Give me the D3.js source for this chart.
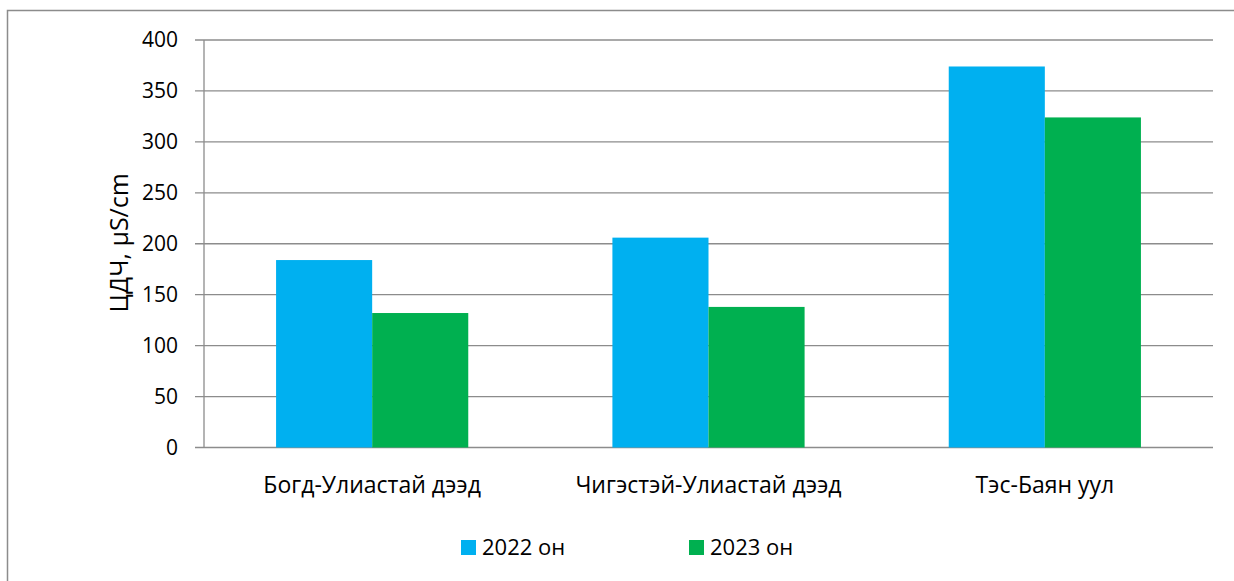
<!DOCTYPE html>
<html>
<head>
<meta charset="utf-8">
<script src="https://cdn.jsdelivr.net/npm/d3@7"></script>
<style>
  body { margin: 0; background: #fff; }
  text { font-family: "Open Sans", "Noto Sans", sans-serif; fill: #000; }
</style>
</head>
<body>
<div id="chart"></div>
<script>
// Data
const categories = ["Богд-Улиастай дээд", "Чигэстэй-Улиастай дээд", "Тэс-Баян уул"];
const seriesNames = ["2022 он", "2023 он"];
const values2022 = [184, 206, 374];
const values2023 = [132, 138, 324];
const yTicks = [0, 50, 100, 150, 200, 250, 300, 350, 400];
const colors = ["#00B0F0", "#00B050"];

const W = 1234, H = 581;
const margin = { top: 40, right: 21, bottom: 133.5, left: 204 };
const width = W - margin.left - margin.right;
const height = H - margin.top - margin.bottom;

const svg = d3.select("#chart")
  .append("svg")
    .attr("width", W)
    .attr("height", H);

// Outer chart frame (cut off at right and bottom)
svg.append("rect")
  .attr("x", 7.5)
  .attr("y", 10.5)
  .attr("width", W + 20)
  .attr("height", H + 20)
  .attr("fill", "none")
  .attr("stroke", "#8c8c8c")
  .attr("stroke-width", 1.5);

const g = svg.append("g")
  .attr("transform", `translate(${margin.left},${margin.top})`);

// Scales
const x0 = d3.scaleBand().domain(categories).range([0, width]).padding(0);
const x1 = d3.scaleBand().domain(seriesNames).range([0, x0.bandwidth()]).paddingInner(0).paddingOuter(0.75);
const y = d3.scaleLinear().domain([0, 400]).range([height, 0]);

// Gridlines
g.selectAll(".grid")
  .data(yTicks)
  .enter().append("line")
    .attr("x1", -9)
    .attr("x2", width)
    .attr("y1", d => y(d))
    .attr("y2", d => y(d))
    .attr("stroke", "#8c8c8c")
    .attr("stroke-width", 1.3);

// Bars
const rows = categories.map((c, i) => ({ cat: c, vals: [values2022[i], values2023[i]] }));
g.selectAll(".group")
  .data(rows)
  .enter().append("g")
    .attr("transform", d => `translate(${x0(d.cat)},0)`)
  .selectAll("rect")
  .data(d => d.vals.map((v, j) => ({ name: seriesNames[j], value: v, j })))
  .enter().append("rect")
    .attr("x", d => x1(d.name))
    .attr("y", d => y(d.value))
    .attr("width", x1.bandwidth())
    .attr("height", d => height - y(d.value))
    .attr("fill", d => colors[d.j]);

// Y axis line
g.append("line")
  .attr("x1", 0).attr("x2", 0)
  .attr("y1", 0).attr("y2", height)
  .attr("stroke", "#8c8c8c")
  .attr("stroke-width", 1.3);

// Y tick labels
g.selectAll(".ytick")
  .data(yTicks)
  .enter().append("text")
    .attr("x", -26)
    .attr("y", d => y(d))
    .attr("dy", "0.35em")
    .attr("text-anchor", "end")
    .style("font-size", "21px")
    .text(d => d);

// X category labels
g.selectAll(".xlabel")
  .data(categories)
  .enter().append("text")
    .attr("x", d => x0(d) + x0.bandwidth() / 2)
    .attr("y", height + 45)
    .attr("text-anchor", "middle")
    .style("font-size", "23px")
    .text(d => d);

// Y axis title
svg.append("text")
  .attr("transform", `translate(128,${margin.top + height / 2 - 1}) rotate(-90)`)
  .attr("text-anchor", "middle")
  .style("font-size", "25px")
  .text("ЦДЧ, µS/cm");

// Legend
const legendX = [461, 689];
const legend = svg.selectAll(".legend")
  .data(seriesNames)
  .enter().append("g")
    .attr("transform", (d, i) => `translate(${legendX[i]},540)`);

legend.append("rect")
  .attr("width", 15)
  .attr("height", 15)
  .attr("fill", (d, i) => colors[i]);

legend.append("text")
  .attr("x", 21)
  .attr("y", 7.5)
  .attr("dy", "0.35em")
  .style("font-size", "22px")
  .text(d => d);
</script>
</body>
</html>
